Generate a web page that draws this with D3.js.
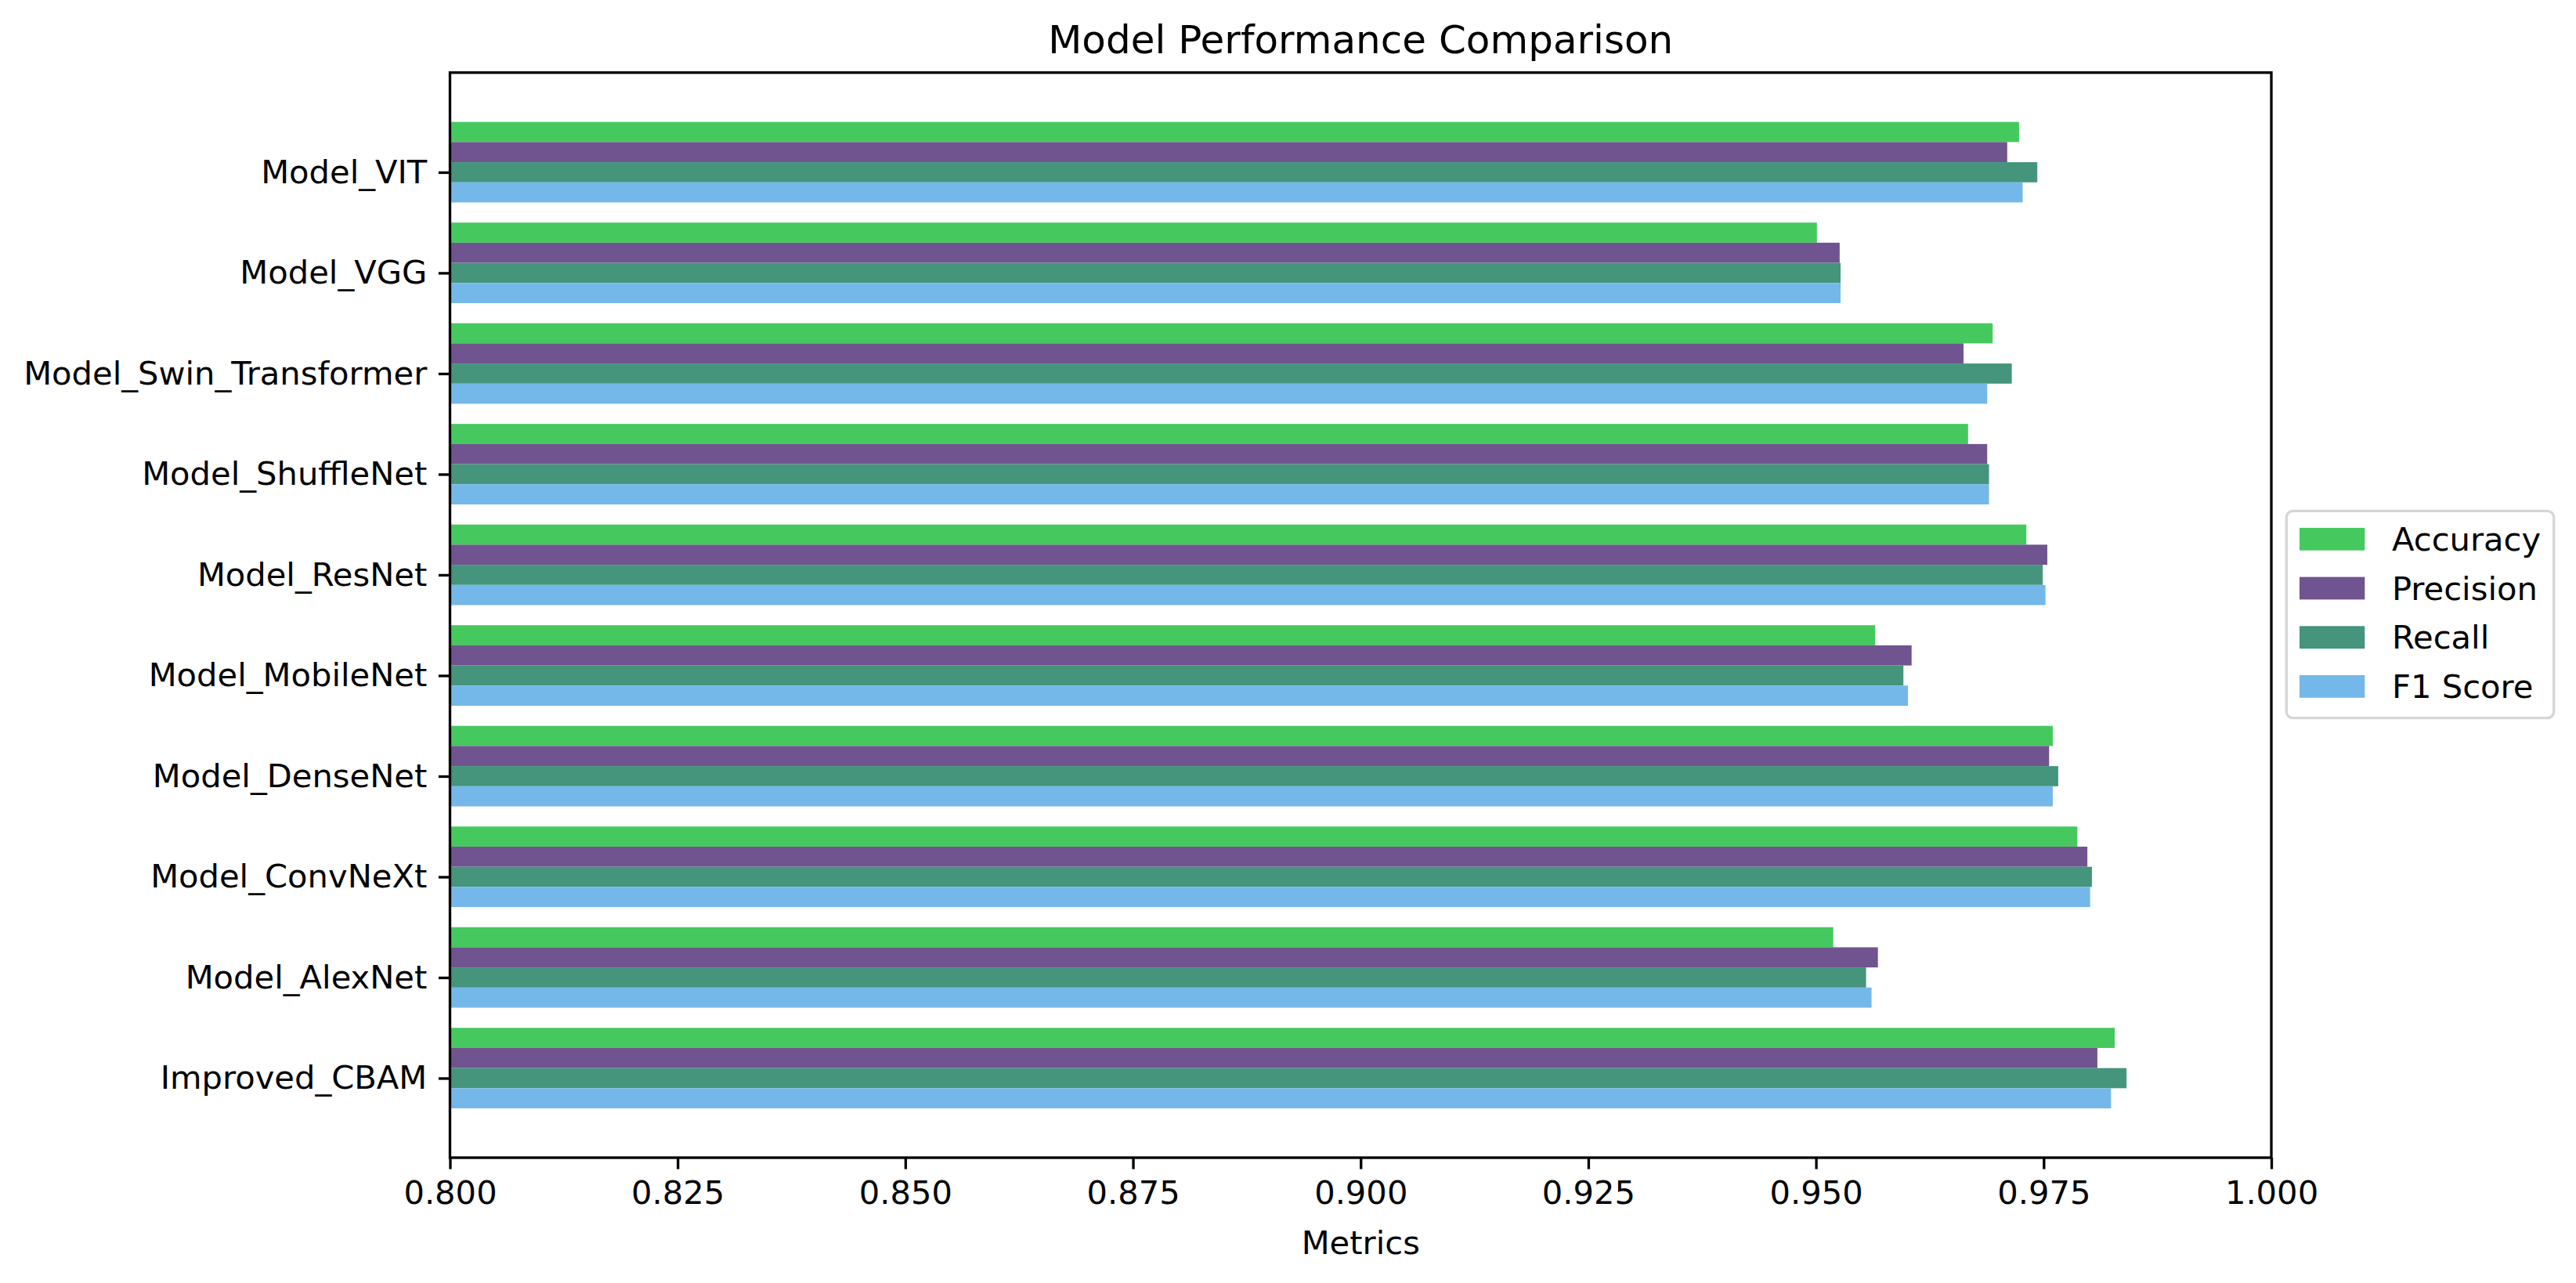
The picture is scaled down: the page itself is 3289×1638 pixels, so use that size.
<!DOCTYPE html>
<html>
<head>
<meta charset="utf-8">
<script src="https://cdn.jsdelivr.net/npm/d3@7"></script>
<style>
  body { margin: 0; background: #fff; }
  text { font-family: "DejaVu Sans", sans-serif; fill: #000; }
</style>
</head>
<body>
<div id="chart"></div>
<script>
// categories, bottom to top
const models = ["Improved_CBAM", "Model_AlexNet", "Model_ConvNeXt", "Model_DenseNet", "Model_MobileNet",
    "Model_ResNet", "Model_ShuffleNet", "Model_Swin_Transformer", "Model_VGG", "Model_VIT"];
const accuracy  = [0.9828, 0.9519, 0.9787, 0.9760, 0.9565, 0.9731, 0.9667, 0.9694, 0.9501, 0.9723];
const precision = [0.9809, 0.9568, 0.9798, 0.9756, 0.9605, 0.9754, 0.9688, 0.9662, 0.9526, 0.9710];
const recall    = [0.9841, 0.9555, 0.9803, 0.9766, 0.9596, 0.9749, 0.9690, 0.9715, 0.9527, 0.9743];
const f1Score   = [0.9824, 0.9561, 0.9801, 0.9760, 0.9601, 0.9752, 0.9690, 0.9688, 0.9527, 0.9727];
const metricNames = ["Accuracy", "Precision", "Recall", "F1 Score"];
const xTicks = [0.800, 0.825, 0.850, 0.875, 0.900, 0.925, 0.950, 0.975, 1.000];

const series = [accuracy, precision, recall, f1Score];
const colors = ["#45c95e", "#705490", "#45947c", "#73b8e8"];
const offsets = [0.4, 0.2, 0, -0.2];   // bar centre relative to the tick
const barH = 0.2;

const W = 3289, H = 1638;
const plot = { left: 574.5, right: 2900, top: 92.7, bottom: 1478 };
const fs = 41.67;

const svg = d3.select("#chart").append("svg")
    .attr("width", W).attr("height", H);

const x = d3.scaleLinear().domain([0.8, 1.0]).range([plot.left, plot.right]);
const y = d3.scaleLinear().domain([-0.79, 9.99]).range([plot.bottom, plot.top]);

// bars
series.forEach((vals, s) => {
    svg.append("g")
        .selectAll("rect")
        .data(vals)
        .join("rect")
        .attr("x", x(0.8))
        .attr("y", (d, i) => y(i + offsets[s] + barH / 2))
        .attr("width", d => x(d) - x(0.8))
        .attr("height", y(0) - y(barH))
        .attr("fill", colors[s]);
});

// x axis
const xAxis = svg.append("g")
    .attr("transform", `translate(0,${plot.bottom})`)
    .call(d3.axisBottom(x).tickValues(xTicks).tickFormat(d3.format(".3f"))
        .tickSize(14.6).tickPadding(14.6));
xAxis.select(".domain").remove();
xAxis.selectAll("line").attr("stroke", "#000").attr("stroke-width", 3.33);
xAxis.selectAll("text").style("font-size", fs + "px").attr("fill", "#000");

// y axis
const yAxis = svg.append("g")
    .attr("transform", `translate(${plot.left},0)`)
    .call(d3.axisLeft(y).tickValues(d3.range(models.length)).tickFormat(i => models[i])
        .tickSize(14.6).tickPadding(14.6));
yAxis.select(".domain").remove();
yAxis.selectAll("line").attr("stroke", "#000").attr("stroke-width", 3.33);
yAxis.selectAll("text").style("font-size", fs + "px").attr("fill", "#000");

// frame
svg.append("rect")
    .attr("x", plot.left).attr("y", plot.top)
    .attr("width", plot.right - plot.left).attr("height", plot.bottom - plot.top)
    .attr("fill", "none").attr("stroke", "#000").attr("stroke-width", 3.33);

// title and axis label
svg.append("text")
    .attr("x", (plot.left + plot.right) / 2).attr("y", 68.3)
    .attr("text-anchor", "middle").style("font-size", "50px")
    .text("Model Performance Comparison");

svg.append("text")
    .attr("x", (plot.left + plot.right) / 2).attr("y", 1600.7)
    .attr("text-anchor", "middle").style("font-size", fs + "px")
    .text("Metrics");

// legend
const legend = svg.append("g").attr("transform", "translate(2919.3,652.3)");
legend.append("rect")
    .attr("width", 341.4).attr("height", 264.4).attr("rx", 8.3)
    .attr("fill", "#fff").attr("stroke", "#d6d6d6").attr("stroke-width", 3.33);

const items = legend.selectAll("g.item")
    .data(metricNames)
    .join("g")
    .attr("class", "item")
    .attr("transform", (d, i) => `translate(0,${36 + i * 62.7})`);

items.append("rect")
    .attr("x", 16.7).attr("y", -14.4)
    .attr("width", 83.3).attr("height", 28.8)
    .attr("fill", (d, i) => colors[i]);

items.append("text")
    .attr("x", 134.7).attr("dy", "0.35em")
    .style("font-size", fs + "px")
    .text(d => d);
</script>
</body>
</html>
